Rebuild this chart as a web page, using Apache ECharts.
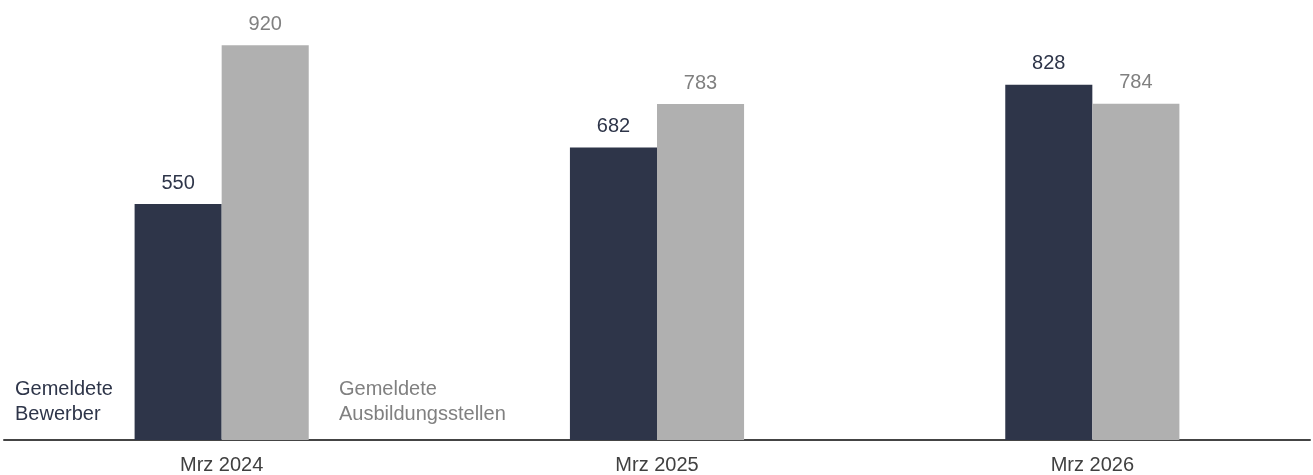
<!DOCTYPE html>
<html>
<head>
<meta charset="utf-8">
<script src="https://cdn.jsdelivr.net/npm/echarts@6/dist/echarts.min.js"></script>
<style>
  html, body { margin: 0; padding: 0; background: #fff; }
  #chart { width: 1313px; height: 475px; }
</style>
</head>
<body>
<div id="chart"></div>
<script>
const categories = ['Mrz 2024', 'Mrz 2025', 'Mrz 2026']
const bewerber = [550, 682, 828]
const stellen = [920, 783, 784]

const dark = '#2e3549'
const grey = '#b0b0b0'
const greyText = '#808080'
const font = '"Liberation Sans", Arial, sans-serif'

let chart = echarts.init(document.getElementById('chart'))

let options = {
  animation: false,
  textStyle: { fontFamily: font },
  grid: { left: 4, right: 3, top: 11, bottom: 34 },
  xAxis: {
    type: 'category',
    data: categories,
    axisTick: { show: false },
    axisLine: { lineStyle: { color: '#444', width: 2 } },
    axisLabel: { color: '#404040', fontSize: 20, fontFamily: font, margin: 15 }
  },
  yAxis: {
    type: 'value',
    min: 0,
    max: 1000,
    show: false,
    splitLine: { show: false }
  },
  series: [
    {
      name: 'Gemeldete Bewerber',
      type: 'bar',
      data: bewerber,
      barWidth: '20%',
      barGap: '0%',
      itemStyle: { color: dark },
      label: { show: true, position: 'top', distance: 11, color: dark, fontSize: 20, fontFamily: font }
    },
    {
      name: 'Gemeldete Ausbildungsstellen',
      type: 'bar',
      data: stellen,
      barWidth: '20%',
      barGap: '0%',
      itemStyle: { color: grey },
      label: { show: true, position: 'top', distance: 11, color: greyText, fontSize: 20, fontFamily: font }
    }
  ],
  graphic: [
    {
      type: 'text',
      left: 15,
      top: 377,
      style: { text: 'Gemeldete\nBewerber', fill: dark, font: '20px ' + font, lineHeight: 25 }
    },
    {
      type: 'text',
      left: 339,
      top: 377,
      style: { text: 'Gemeldete\nAusbildungsstellen', fill: greyText, font: '20px ' + font, lineHeight: 25 }
    }
  ]
}

chart.setOption(options)
</script>
</body>
</html>
